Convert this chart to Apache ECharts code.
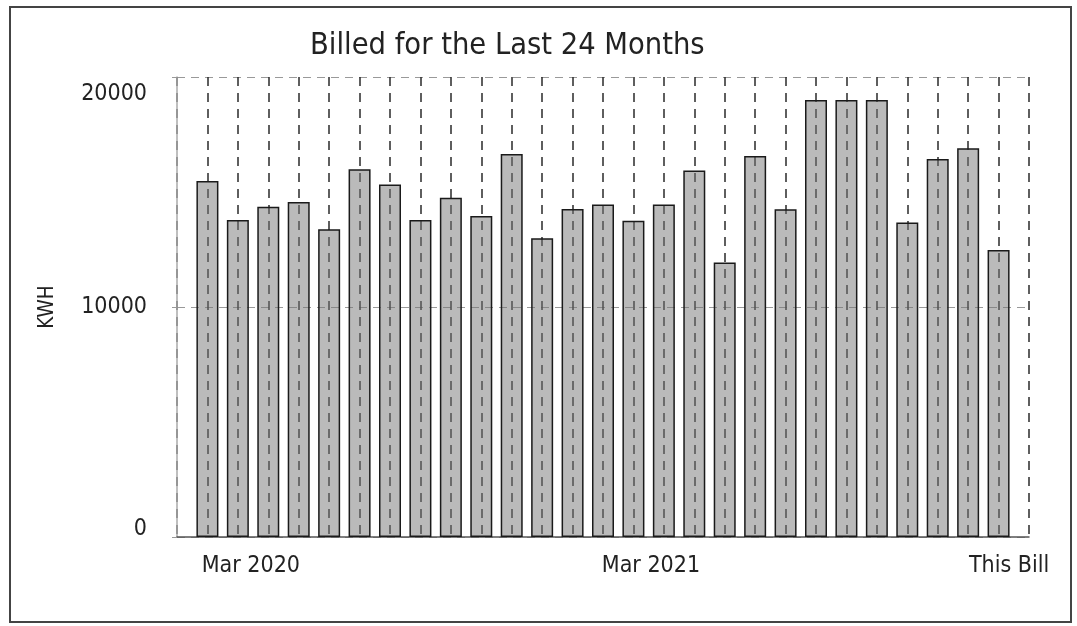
<!DOCTYPE html>
<html>
<head>
<meta charset="utf-8">
<title>Billed for the Last 24 Months</title>
<script src="https://cdn.jsdelivr.net/npm/echarts@6/dist/echarts.min.js"></script>
<style>
  html, body { margin: 0; padding: 0; background: #ffffff; }
  #chart { width: 1077px; height: 626px; }
</style>
</head>
<body>
<div id="chart"></div>
<script>
// Monthly billed consumption (kWh), oldest first; the last bar is the current bill.
const kwh = [
  15480, 13780, 14360, 14570, 13380, 15990, 15330, 13780, 14750, 13960,
  16650, 12990, 14260, 14460, 13750, 14460, 15930, 11940, 16570, 14250,
  19000, 19000, 19000, 13670, 16430, 16900, 12480
];

// Billing periods, one per bar.
const periods = [
  'P01', 'P02', 'P03', 'P04', 'P05', 'P06', 'P07', 'P08', 'P09', 'P10',
  'P11', 'P12', 'P13', 'P14', 'P15', 'P16', 'P17', 'P18', 'P19', 'P20',
  'P21', 'P22', 'P23', 'P24', 'P25', 'P26', 'P27'
];

// Axis captions shown under the bars, keyed by period.
const tickPeriods = ['P02', 'P15', 'P27'];
const tickLabels = ['Mar 2020', 'Mar 2021', 'This Bill'];
const tickNudge = [26, 35, 21];   // left padding that shifts each caption to the right

const yTicks = [0, 10000, 20000];

const FONT = '"Liberation Sans Narrow", "Arial Narrow", "DejaVu Sans Condensed", sans-serif';
const INK = '#222222';

// An empty slot at each end so the dashed guides frame the plot.
const slots = ['L'].concat(periods, ['R']);
const xData = slots.map(function (p) {
  const k = tickPeriods.indexOf(p);
  if (k < 0) return { value: p };
  return { value: p, textStyle: { padding: [0, 0, 0, tickNudge[k]] } };
});
const barData = [null].concat(kwh, [null]);

const chart = echarts.init(document.getElementById('chart'), null, { renderer: 'canvas' });

chart.setOption({
  backgroundColor: '#ffffff',
  animation: false,
  title: {
    text: 'Billed for the Last 24 Months',
    left: 305,
    top: 26,
    textStyle: { fontFamily: FONT, fontSize: 30.5, fontWeight: 'normal', color: INK }
  },
  grid: { left: 177, right: 48, top: 77, bottom: 89, containLabel: false },
  xAxis: {
    type: 'category',
    data: xData,
    boundaryGap: false,
    axisLine: { show: true, lineStyle: { color: '#555555', width: 1.5 } },
    axisTick: { show: false },
    axisLabel: {
      interval: 0,
      margin: 18,
      fontFamily: FONT,
      fontSize: 23,
      color: INK,
      formatter: function (v) {
        const k = tickPeriods.indexOf(v);
        return k < 0 ? '' : tickLabels[k];
      }
    },
    // dashed guide through every bar centre; shows through the translucent bars
    splitLine: {
      show: true,
      interval: 0,
      lineStyle: { color: '#2a2a2a', width: 1.5, type: [9, 7] }
    }
  },
  yAxis: {
    type: 'value',
    min: yTicks[0],
    max: yTicks[yTicks.length - 1],
    interval: yTicks[1] - yTicks[0],
    name: 'KWH',
    nameLocation: 'middle',
    nameRotate: 90,
    nameGap: 119,
    nameTextStyle: { fontFamily: FONT, fontSize: 20.5, color: INK },
    axisLine: { show: true, lineStyle: { color: '#aaaaaa', width: 1.5 } },
    axisTick: { show: true, length: 5, lineStyle: { color: '#999999' } },
    axisLabel: {
      margin: 30,
      fontFamily: FONT,
      fontSize: 23,
      color: INK,
      formatter: function (v) {
        if (v === yTicks[yTicks.length - 1]) return '{top|' + v + '}';
        if (v === yTicks[0]) return '{bot|' + v + '}';
        return '{mid|' + v + '}';
      },
      rich: {
        top: { fontFamily: FONT, fontSize: 23, color: INK, padding: [34, 0, 0, 0] },
        mid: { fontFamily: FONT, fontSize: 23, color: INK },
        bot: { fontFamily: FONT, fontSize: 23, color: INK, padding: [0, 0, 16, 0] }
      }
    },
    splitLine: {
      show: true,
      lineStyle: { color: '#999999', width: 1.2, type: [8, 6] }
    }
  },
  series: [{
    type: 'bar',
    data: barData,
    barWidth: 22,
    itemStyle: { color: 'rgba(118,118,118,0.5)', borderColor: '#1a1a1a', borderWidth: 1.5 }
  }],
  graphic: [{
    type: 'rect',
    shape: { x: 10, y: 7, width: 1061, height: 615 },
    style: { fill: null, stroke: '#444444', lineWidth: 2 },
    silent: true
  }]
});
</script>
</body>
</html>
